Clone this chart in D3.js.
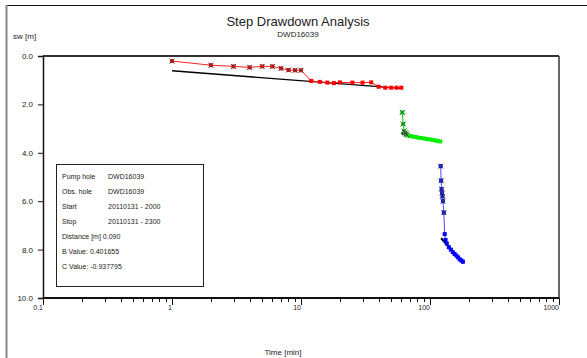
<!DOCTYPE html>
<html>
<head>
<meta charset="utf-8">
<script src="https://cdn.jsdelivr.net/npm/d3@7"></script>
<style>
  body { margin: 0; background: #fff; }
  text { font-family: "Liberation Sans", Arial, sans-serif; fill: #222; }
</style>
</head>
<body>
<svg id="chart" width="587" height="358"></svg>
<script>
// step 1 (red), 2 (green), 3 (blue): [time min, drawdown m]
const step1 = [[1, 0.21], [2, 0.38], [3, 0.43], [4, 0.47], [5, 0.43], [6, 0.43], [7, 0.51], [8, 0.58],
  [9, 0.59], [10, 0.59], [12, 1.03], [14, 1.07], [16, 1.10], [18, 1.12], [20, 1.09], [25, 1.10],
  [30, 1.10], [35, 1.09], [40, 1.27], [45, 1.31], [50, 1.31], [55, 1.31], [60, 1.31]];
const step2 = [[61, 2.33], [62, 2.81], [63, 3.10], [64, 3.18], [65, 3.22], [66, 3.26], [68, 3.29],
  [70, 3.31], [75, 3.34], [80, 3.37], [85, 3.39], [90, 3.41], [95, 3.43], [100, 3.45], [105, 3.47],
  [110, 3.49], [115, 3.51], [120, 3.53]];
const step3 = [[121, 4.55], [122, 5.15], [123, 5.50], [124, 5.67], [125, 5.80], [126, 6.00],
  [128, 6.47], [130, 7.36], [132, 7.60], [135, 7.75], [140, 7.90], [145, 8.00], [150, 8.10],
  [155, 8.18], [160, 8.25], [165, 8.32], [170, 8.40], [175, 8.45], [180, 8.50]];
// how many leading points of each step carry a cross marker (manual readings)
const crossed = [10, 6, 7];

// fitted straight lines per step
const fit1 = [[1, 0.61], [60, 1.34]];
const fit2 = [[60, 3.19], [120, 3.54]];
const fit3 = [[122, 7.53], [182, 8.57]];

const yTicks = [0, 2, 4, 6, 8, 10];
const xTickLabels = [0.1, 1, 10, 100, 1000];

const infoRows = [
  ["Pump hole", "DWD16039"],
  ["Obs. hole", "DWD16039"],
  ["Start", "20110131 - 2000"],
  ["Stop", "20110131 - 2300"],
  ["Distance [m] 0.090", ""],
  ["B Value: 0.401655", ""],
  ["C Value: -0.937795", ""],
];

const svg = d3.select("#chart");
const margin = { top: 56, left: 43, right: 28, bottom: 60 };
const W = 587, H = 358;

const x = d3.scaleLog().domain([0.1, 1000]).range([margin.left, W - margin.right]);
const y = d3.scaleLinear().domain([0, 10]).range([margin.top, H - margin.bottom]);

// outer frame (top + left only visible)
svg.append("line").attr("x1", 6).attr("x2", 587).attr("y1", 5.5).attr("y2", 5.5)
  .attr("stroke", "#111").attr("stroke-width", 1);
svg.append("line").attr("x1", 6.5).attr("x2", 6.5).attr("y1", 5).attr("y2", 358)
  .attr("stroke", "#888").attr("stroke-width", 2);

// titles
svg.append("text").attr("x", 298).attr("y", 26).attr("text-anchor", "middle")
  .style("font-size", "13px").text("Step Drawdown Analysis");
svg.append("text").attr("x", 298).attr("y", 37).attr("text-anchor", "middle")
  .style("font-size", "8px").text("DWD16039");
svg.append("text").attr("x", 13).attr("y", 39)
  .style("font-size", "8px").text("sw [m]");
svg.append("text").attr("x", 283).attr("y", 355).attr("text-anchor", "middle")
  .style("font-size", "8px").text("Time [min]");

// plot frame: top and right
svg.append("line").attr("x1", x(0.1)).attr("x2", x(1000)).attr("y1", y(0)).attr("y2", y(0))
  .attr("stroke", "#333").attr("stroke-width", 2);
svg.append("line").attr("x1", x(1000)).attr("x2", x(1000)).attr("y1", y(0)).attr("y2", y(10))
  .attr("stroke", "#333").attr("stroke-width", 1.5);

// left axis
const yAxis = svg.append("g")
  .attr("transform", `translate(${margin.left},0)`)
  .call(d3.axisLeft(y).tickValues(yTicks).tickSize(5).tickPadding(5)
    .tickFormat(d3.format(".1f")));
yAxis.select(".domain").attr("stroke", "#111").attr("stroke-width", 1.5);
yAxis.selectAll(".tick line").attr("stroke", "#111");
yAxis.selectAll(".tick text").style("font-size", "8px").attr("fill", "#222");

// bottom axis, drawn by hand: ticks point down, decades longer
const xAxis = svg.append("g").attr("transform", `translate(0,${y(10)})`);
xAxis.append("line").attr("x1", x(0.1)).attr("x2", x(1000)).attr("y1", 0).attr("y2", 0)
  .attr("stroke", "#111").attr("stroke-width", 2);
xAxis.selectAll(".tk")
  .data(x.ticks())
  .enter()
  .append("line")
  .attr("class", "tk")
  .attr("x1", d => Math.round(x(d)) + 0.5)
  .attr("x2", d => Math.round(x(d)) + 0.5)
  .attr("y1", 0)
  .attr("y2", d => xTickLabels.some(v => Math.abs(v - d) < 1e-9) ? 7 : 4)
  .attr("stroke", "#111")
  .attr("stroke-width", 1);
xAxis.selectAll(".lbl")
  .data(xTickLabels)
  .enter()
  .append("text")
  .attr("class", "lbl")
  .attr("x", d => x(d))
  .attr("y", 12)
  .attr("text-anchor", "end")
  .style("font-size", "7px")
  .text(d => d);

// fit lines
const line = d3.line().x(d => x(d[0])).y(d => y(d[1]));
[fit1, fit2, fit3].forEach((f, i) => {
  svg.append("path").attr("d", line(f)).attr("fill", "none")
    .attr("stroke", "#000").attr("stroke-width", i === 0 ? 1.3 : 2);
});

// data series
const steps = [
  { data: step1, color: "#ff0000", line: "#ff2020" },
  { data: step2, color: "#00ee00", line: "#00cc00" },
  { data: step3, color: "#0000ff", line: "#4a4aff" },
];
steps.forEach((s, i) => {
  svg.append("path").attr("d", line(s.data)).attr("fill", "none")
    .attr("stroke", s.line).attr("stroke-width", 1);

  const g = svg.append("g");
  g.selectAll(".pt")
    .data(s.data)
    .enter()
    .append("rect")
    .attr("class", "pt")
    .attr("x", d => x(d[0]) - 2)
    .attr("y", d => y(d[1]) - 2)
    .attr("width", 4)
    .attr("height", 4)
    .attr("fill", s.color);

  g.selectAll(".cross")
    .data(s.data.slice(0, crossed[i]))
    .enter()
    .append("path")
    .attr("class", "cross")
    .attr("d", d => {
      const cx = x(d[0]), cy = y(d[1]);
      return `M${cx - 2.5},${cy - 2.5}L${cx + 2.5},${cy + 2.5}M${cx - 2.5},${cy + 2.5}L${cx + 2.5},${cy - 2.5}`;
    })
    .attr("stroke", "#444")
    .attr("stroke-width", 1);
});

// info box
const box = svg.append("g").attr("transform", "translate(56,164)");
box.append("rect").attr("x", 0.5).attr("y", 0.5).attr("width", 147).attr("height", 122)
  .attr("fill", "#fff").attr("stroke", "#222").attr("stroke-width", 1);
box.selectAll(".k")
  .data(infoRows)
  .enter()
  .append("text")
  .attr("class", "k")
  .attr("x", 6)
  .attr("y", (d, i) => 15 + i * 15)
  .style("font-size", "7px")
  .text(d => d[0]);
box.selectAll(".v")
  .data(infoRows)
  .enter()
  .append("text")
  .attr("class", "v")
  .attr("x", 52)
  .attr("y", (d, i) => 15 + i * 15)
  .style("font-size", "7px")
  .text(d => d[1]);
</script>
</body>
</html>
